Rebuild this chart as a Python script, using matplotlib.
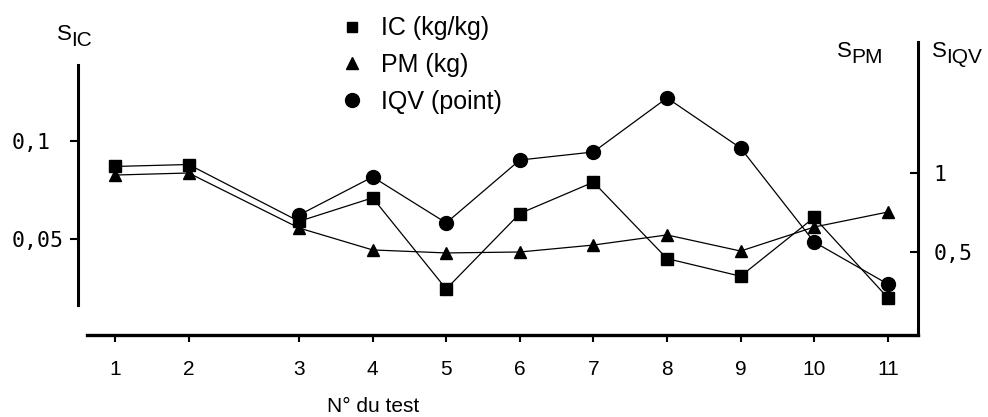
import numpy as np
import matplotlib.pyplot as plt
from matplotlib.lines import Line2D

plt.rcParams['font.family'] = ['Liberation Sans', 'DejaVu Sans']

# Data
tests = ['1', '2', '3', '4', '5', '6', '7', '8', '9', '10', '11']
x_pos = [1, 2, 3.5, 4.5, 5.5, 6.5, 7.5, 8.5, 9.5, 10.5, 11.5]  # gap between test 2 and 3
s_ic = [0.087, 0.088, 0.059, 0.071, 0.0245, 0.063, 0.079, 0.040, 0.031, 0.061, 0.020]
s_pm = [0.987, 1.0, 0.652, 0.513, 0.494, 0.50, 0.544, 0.608, 0.506, 0.658, 0.753]
s_iqv = [np.nan, np.nan, 0.734, 0.975, 0.684, 1.082, 1.133, 1.475, 1.158, 0.563, 0.297]

fig = plt.figure(figsize=(9.88, 4.17), dpi=100)
ax = fig.add_axes([78 / 988, 82 / 417, 840 / 988, 293 / 417])
ax2 = ax.twinx()

lw = 0.9
ax.plot(x_pos, s_ic, color='black', lw=lw, marker='s', ms=8.5, zorder=3)
ax2.plot(x_pos, s_pm, color='black', lw=lw, marker='^', ms=8, zorder=2)
ax2.plot(x_pos, s_iqv, color='black', lw=lw, marker='o', ms=10, zorder=2)

ax.set_xlim(0.497, 11.91)
ax.set_ylim(0.00102, 0.1505)
ax2.set_ylim(-0.0253, 1.829)

# spines
for s in ['top', 'right']:
    ax.spines[s].set_visible(False)
for s in ['top', 'left', 'bottom']:
    ax2.spines[s].set_visible(False)
ax.spines['left'].set_linewidth(2.2)
ax.spines['left'].set_bounds(0.0163, 0.1388)
ax.spines['bottom'].set_linewidth(2.4)
ax.spines['bottom'].set_bounds(0.618, 11.91)
ax2.spines['right'].set_linewidth(2.2)

# x ticks
ax.set_xticks(x_pos)
ax.set_xticklabels(tests, fontsize=15, fontstretch='condensed')
ax.tick_params(axis='x', direction='out', length=5, width=1.5, pad=13)

# left ticks
ax.set_yticks([0.05, 0.1])
ax.set_yticklabels(['0,05', '0,1'], family='DejaVu Sans Mono', fontsize=15.5, ha='left')
ax.tick_params(axis='y', direction='out', length=6, width=1.5, pad=42)

# right ticks
ax2.set_yticks([0.5, 1.0])
ax2.set_yticklabels(['0,5', '1'], family='DejaVu Sans Mono', fontsize=15.5)
ax2.tick_params(axis='y', direction='in', length=6, width=1.5, pad=11)

# axis titles: letter S with a large subscript
def s_label(x, y, sub):
    fig.text(x / 988, 1 - y / 417, 'S', fontsize=16, va='baseline', ha='left')
    fig.text((x + 14) / 988, 1 - (y + 6) / 417, sub, fontsize=15, va='baseline', ha='left')

s_label(57, 40, 'IC')
s_label(837, 57, 'PM')
s_label(932, 57, 'IQV')

fig.text(327 / 988, 1 - 407 / 417, 'N° du test', fontsize=15, ha='left', va='center',
         fontstretch='condensed')

# legend (markers only)
handles = [Line2D([], [], color='black', marker='s', ls='none', ms=7),
           Line2D([], [], color='black', marker='^', ls='none', ms=8),
           Line2D([], [], color='black', marker='o', ls='none', ms=10)]
labels = ['IC (kg/kg)', 'PM (kg)', 'IQV (point)']
fig.legend(handles, labels, loc='upper left', bbox_to_anchor=(327 / 988, 1 - 4 / 417),
           frameon=False, fontsize=18, handlelength=1.0, handletextpad=0.65,
           labelspacing=0.5, borderpad=0)

plt.savefig('out.png', dpi=100)
